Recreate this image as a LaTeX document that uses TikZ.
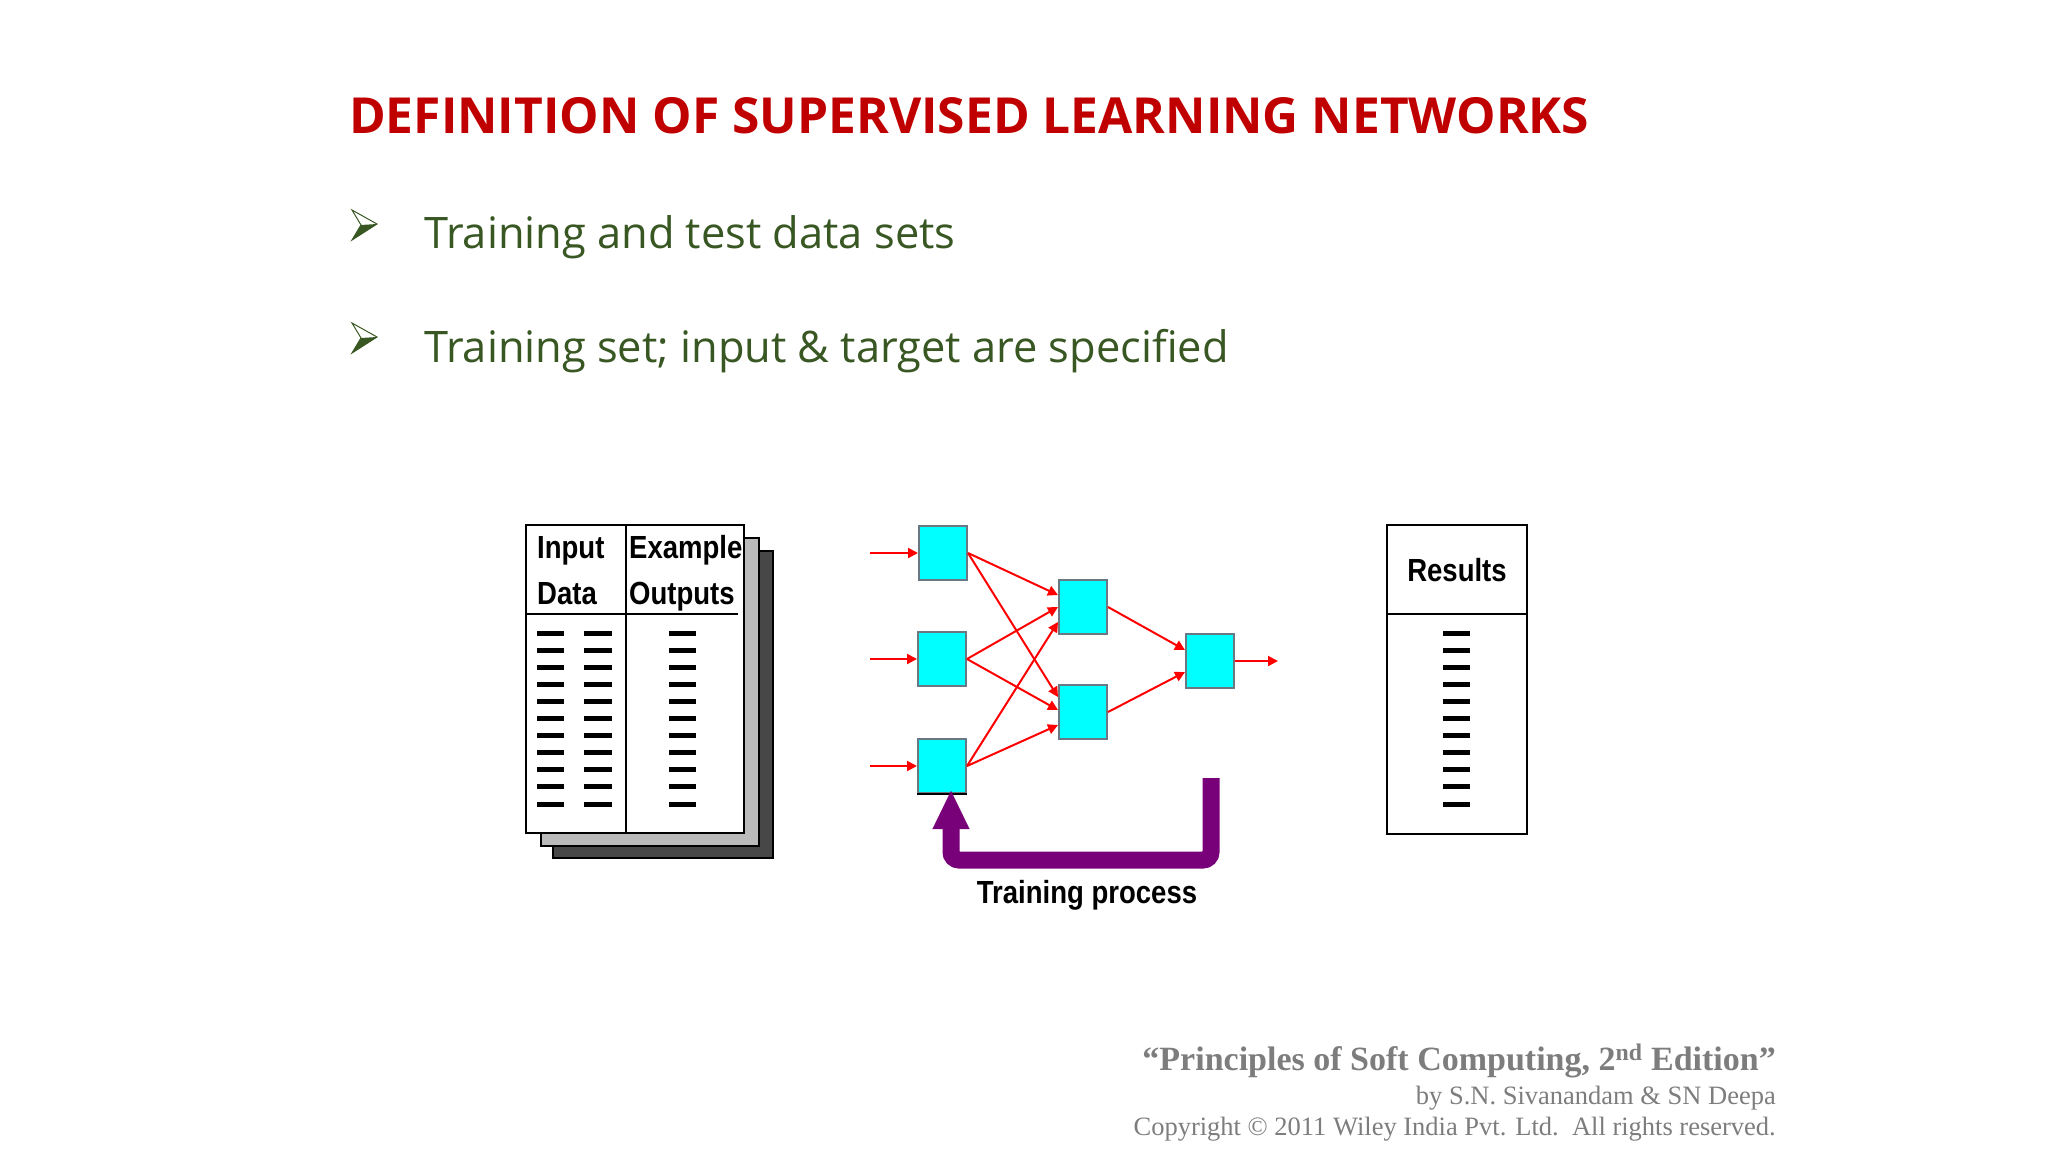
\documentclass[tikz,border=0pt]{standalone}
\usepackage{fontspec}
\setmainfont{Liberation Serif}
\newfontfamily\slidefont{Open Sans}
\newfontfamily\pixfont{Liberation Sans}
\usetikzlibrary{arrows.meta,positioning,calc}

\definecolor{titlered}{RGB}{192,0,0}
\definecolor{bulletgreen}{RGB}{56,87,35}
\definecolor{footgray}{RGB}{125,125,125}
\definecolor{nncyan}{RGB}{0,255,255}
\definecolor{nnedge}{RGB}{105,120,130}
\definecolor{fbpurple}{RGB}{120,0,120}
\definecolor{nnred}{RGB}{255,0,0}

\newcommand{\pixtxt}[1]{\scalebox{0.86}[1]{\pixfont\bfseries #1}}

\begin{document}
\begin{tikzpicture}[x=1pt,y=-1pt,
    neuron/.style={draw=nnedge, line width=2pt, fill=nncyan, minimum width=48pt, minimum height=54pt, inner sep=0pt},
    syn/.style={nnred, line width=2pt, -{Triangle[length=10pt,width=10pt]}},
    fb/.style={fbpurple, line width=17pt, rounded corners=8pt, -{Triangle[length=38pt,width=37pt,line width=0.1pt]}},
    lbl/.style={font=\fontsize{32}{34}\selectfont, inner sep=0pt, anchor=base west},
    bullet/.style={font=\slidefont\fontsize{43.4}{50}\selectfont, text=bulletgreen, inner sep=0pt, anchor=base west},
    foot/.style={text=footgray, inner sep=0pt, anchor=base east},
    bar/.style={line width=5pt},
    page/.style={draw=black, line width=2.5pt}
]
\useasboundingbox (0,0) rectangle (2048,1152);

% title and bullets
\node[font=\slidefont\bfseries\fontsize{49.7}{56}\selectfont, text=titlered, inner sep=0pt, anchor=base west] (title) at (349,133) {DEFINITION OF SUPERVISED LEARNING NETWORKS};
\foreach \yb in {210,323}{
  \fill[bulletgreen] (377,\yb+14) -- (352,\yb+30) -- (361,\yb+15) -- cycle;
  \draw[bulletgreen, line width=1pt, line join=miter] (352,\yb) -- (377,\yb+14) -- (352,\yb+30) -- (361,\yb+15) -- cycle;
}
\node[bullet] (b1) at (424,248) {Training and test data sets};
\node[bullet] (b2) at (424,362) {Training set; input \& target are specified};

% training data pages
\filldraw[page, fill=black!72] (553,551) rectangle (773,858);
\filldraw[page, fill=black!27] (541,538) rectangle (759,846);
\filldraw[page, fill=white] (526,525) rectangle (744,833);
\draw[page] (626,525) -- (626,833);
\draw[page] (526,614) -- (738,614);
\node[lbl] (inp) at (537,558) {\pixtxt{Input}};
\node[lbl] (dat) at (537,604) {\pixtxt{Data}};
\node[lbl] (exa) at (629,558) {\pixtxt{Example}};
\node[lbl] (outp) at (629,604) {\pixtxt{Outputs}};

% results page
\draw[page] (1387,525) rectangle (1527,834);
\draw[page] (1387,614) -- (1527,614);
\node[lbl, anchor=base] (res) at (1457,581) {\pixtxt{Results}};

\foreach \r in {0,...,10}{
  \draw[bar] (537,633+17.1*\r) -- (564,633+17.1*\r);
  \draw[bar] (584,633+17.1*\r) -- (612,633+17.1*\r);
  \draw[bar] (669,633+17.1*\r) -- (696,633+17.1*\r);
  \draw[bar] (1443,633+17.1*\r) -- (1470,633+17.1*\r);
}

% network
\node[neuron] (i1) at (943,553) {};
\node[neuron] (i2) at (942,659) {};
\node[neuron] (i3) at (942,766) {};
\node[neuron] (h1) at (1083,607) {};
\node[neuron] (h2) at (1083,712) {};
\node[neuron] (o) at (1210,661) {};
\draw[black, line width=2.5pt] (i3.south west) -- (i3.south east);

\coordinate (in1) at (870,553);
\coordinate (in2) at (870,659);
\coordinate (in3) at (870,766);
\coordinate (out) at (1278,661);

\draw[syn] (in1) -- (i1.west);
\draw[syn] (in2) -- (i2.west);
\draw[syn] (in3) -- (i3.west);
\draw[syn] (i1.east) -- ([yshift=12pt]h1.west);
\draw[syn] (i2.east) -- (h1.west);
\draw[syn] (i3.east) -- ([yshift=-15pt]h1.west);
\draw[syn] (i1.east) -- ([yshift=15pt]h2.west);
\draw[syn] (i2.east) -- ([yshift=2pt]h2.west);
\draw[syn] (i3.east) -- ([yshift=-13pt]h2.west);
\draw[syn] (h1.east) -- ([yshift=11pt]o.west);
\draw[syn] (h2.east) -- ([yshift=-11pt]o.west);
\draw[syn] (o.east) -- (out);

% training loop
\coordinate (fbtop) at (1211,778);
\coordinate (fbbot) at (1211,860);
\draw[fb, shorten >=-3pt] (fbtop) -- (fbbot) -| ([xshift=9pt]i3.south);
\node[lbl, anchor=base] (tp) at (1087,903) {\pixtxt{Training process}};

% footer
\node[foot, font=\bfseries\fontsize{34}{38}\selectfont] (f1) at (1776,1070) {``Principles of Soft Computing, 2\textsuperscript{nd} Edition''};
\node[foot, font=\fontsize{26.5}{30}\selectfont] (f2) at (1776,1104) {by S.N. Sivanandam \& SN Deepa};
\node[foot, font=\fontsize{26.5}{30}\selectfont] (f3) at (1776,1135) {Copyright © 2011 Wiley India Pvt. Ltd.~~All rights reserved.};
\end{tikzpicture}
\end{document}
